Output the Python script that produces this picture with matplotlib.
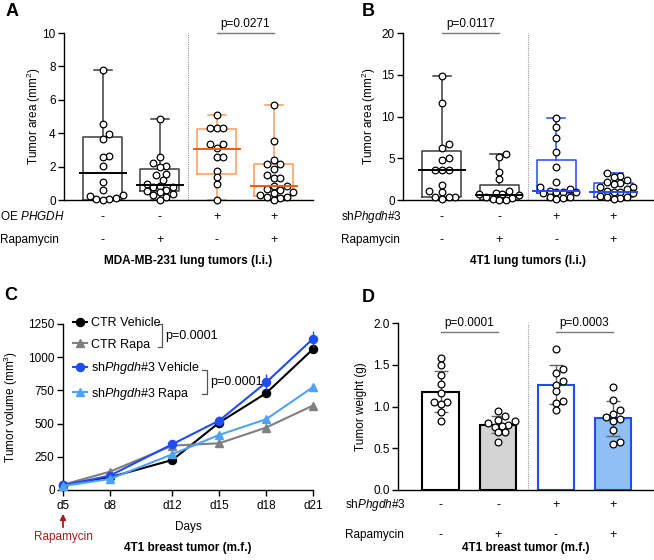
import matplotlib
matplotlib.use("Agg")
import matplotlib.pyplot as plt
import matplotlib.transforms as mtransforms
import numpy as np

plt.rcParams["font.family"] = "Liberation Sans"
plt.rcParams["mathtext.fontset"] = "custom"
plt.rcParams["mathtext.rm"] = "Liberation Sans"
plt.rcParams["mathtext.it"] = "Liberation Sans:italic"
plt.rcParams["mathtext.bf"] = "Liberation Sans:bold"

# ---- panel A: MDA-MB-231 lung tumors, tumor area (mm2)
a_ctr_veh = [7.8, 4.55, 3.95, 3.65, 2.65, 2.6, 2.05, 1.1, 0.6, 0.3, 0.25, 0.1, 0.05, 0.05, 0.0]
a_ctr_rapa = [4.85, 2.6, 2.2, 2.05, 2.0, 1.55, 1.5, 1.2, 0.95, 0.85, 0.8, 0.75, 0.6, 0.55,
              0.45, 0.35, 0.3, 0.2, 0.0]
a_oe_veh = [5.1, 4.3, 4.3, 4.3, 3.35, 3.35, 3.1, 2.55, 2.55, 1.75, 1.35, 0.95, 0.0]
a_oe_rapa = [5.7, 3.55, 2.4, 2.15, 2.15, 1.85, 1.5, 1.3, 1.3, 0.85, 0.85, 0.65, 0.6, 0.45,
             0.4, 0.3, 0.15, 0.15, 0.1, 0.0]
a_median = [1.6, 0.9, 3.05, 0.86]
a_q1 = [0.0, 0.55, 1.55, 0.25]
a_q3 = [3.75, 1.85, 4.25, 2.13]
a_row1 = ["-", "-", "+", "+"]
a_row2 = ["-", "+", "-", "+"]

# ---- panel B: 4T1 lung tumors, tumor area (mm2)
b_ctr_veh = [14.8, 11.6, 6.7, 6.2, 5.0, 4.8, 3.65, 3.65, 3.65, 1.85, 1.05, 0.9, 0.4, 0.4, 0.35, 0.1]
b_ctr_rapa = [5.5, 5.1, 3.4, 2.5, 1.1, 0.8, 0.75, 0.7, 0.6, 0.3, 0.2, 0.1, 0.05, 0.0]
b_sh_veh = [9.8, 8.7, 7.4, 5.7, 3.9, 2.2, 1.6, 1.3, 1.1, 1.0, 0.95, 0.9, 0.85, 0.4, 0.3, 0.2, 0.1]
b_sh_rapa = [3.2, 2.9, 2.8, 2.4, 2.2, 2.0, 1.9, 1.6, 1.5, 1.3, 1.1, 1.0, 0.9, 0.8, 0.5, 0.4,
             0.3, 0.2, 0.1]
b_median = [3.6, 0.6, 1.1, 1.0]
b_q1 = [0.3, 0.05, 0.85, 0.35]
b_q3 = [5.9, 1.8, 4.8, 2.0]
b_row1 = ["-", "-", "+", "+"]
b_row2 = ["-", "+", "-", "+"]

# ---- panel C: 4T1 breast tumor growth (mm3)
c_days = [5, 8, 12, 15, 18, 21]
c_ctr_veh = [38, 96, 226, 508, 729, 1061]
c_ctr_veh_err = [3, 8, 12, 20, 25, 20]
c_ctr_rapa = [40, 138, 334, 352, 470, 636]
c_ctr_rapa_err = [3, 10, 15, 15, 20, 20]
c_sh_veh = [35, 108, 345, 523, 810, 1139]
c_sh_veh_err = [3, 10, 15, 35, 60, 60]
c_sh_rapa = [30, 83, 269, 415, 533, 775]
c_sh_rapa_err = [3, 8, 15, 20, 20, 20]

# ---- panel D: 4T1 breast tumor weight (g)
d_ctr_veh = [1.58, 1.5, 1.38, 1.27, 1.16, 1.05, 1.05, 1.03, 0.94, 0.83]
d_ctr_rapa = [0.95, 0.89, 0.84, 0.83, 0.80, 0.78, 0.77, 0.76, 0.70, 0.69, 0.57]
d_sh_veh = [1.69, 1.45, 1.40, 1.30, 1.26, 1.18, 1.07, 1.04, 0.96]
d_sh_rapa = [1.23, 1.08, 0.96, 0.91, 0.87, 0.85, 0.83, 0.72, 0.57, 0.55]
d_row1 = ["-", "-", "+", "+"]
d_row2 = ["-", "+", "-", "+"]

GREY = "#3c3c3c"
ORANGE = "#ff9a5a"
ORANGE_DARK = "#f25a0a"
BLUE = "#1f4cf5"
LIGHT_BLUE = "#4fa3f7"
RED = "#a81c1c"

fig = plt.figure(figsize=(6.54, 5.6), dpi=100)


def fig_y(px):
    return 1 - px / 560


def style_axis(ax):
    for s in ["top", "right"]:
        ax.spines[s].set_visible(False)
    for s in ["left", "bottom"]:
        ax.spines[s].set_linewidth(1.0)
    ax.tick_params(axis="y", direction="out", length=4, width=1, labelsize=8.5, pad=2)


def swarm_offsets(ax, x0, vals, diam):
    # simple beeswarm in display pixels
    vals = np.asarray(vals, float)
    pts = ax.transData.transform(np.column_stack([np.full(len(vals), x0), vals]))
    order = np.argsort(vals)
    placed = []
    xs = np.zeros(len(vals))
    for i in order:
        px, py = pts[i]
        found = None
        for k in range(60):
            for sgn in ([0] if k == 0 else [1, -1]):
                cx = px + sgn * k * diam * 0.5
                if all((cx - qx) ** 2 + (py - qy) ** 2 >= (diam * 0.98) ** 2 for qx, qy in placed):
                    found = cx
                    break
            if found is not None:
                break
        placed.append((found, py))
        xs[i] = found
    back = ax.transData.inverted().transform(np.column_stack([xs, pts[:, 1]]))
    return back[:, 0]


def add_rows(ax, row1, row2, label1, label2, title, ys, label_x):
    tr = mtransforms.blended_transform_factory(ax.transData, fig.transFigure)
    tr_ax = mtransforms.blended_transform_factory(ax.transAxes, fig.transFigure)
    for i, (s1, s2) in enumerate(zip(row1, row2)):
        ax.text(i, ys[0], s1, transform=tr, ha="center", va="center", fontsize=9)
        ax.text(i, ys[1], s2, transform=tr, ha="center", va="center", fontsize=9)
    fig.text(label_x, ys[0], label1, ha="left", va="center", fontsize=8.5)
    fig.text(label_x, ys[1], label2, ha="left", va="center", fontsize=8.5)
    ax.text(0.5, ys[2], title, transform=tr_ax, ha="center", va="center",
            fontsize=8.5, fontweight="bold")


def box_panel(ax, groups, med, q1, q3, box_colors, med_colors, ylim, yticks):
    ax.set_xlim(-0.68, 3.69)
    ax.set_ylim(*ylim)
    ax.set_yticks(yticks)
    ax.set_xticks([])
    style_axis(ax)
    stats = []
    for g, m, lo, hi in zip(groups, med, q1, q3):
        stats.append(dict(med=m, q1=lo, q3=hi, whislo=min(g), whishi=max(g), fliers=[]))
    for i, st in enumerate(stats):
        c = box_colors[i]
        ax.bxp([st], positions=[i], widths=0.68, capwidths=0.32, showfliers=False,
               boxprops=dict(color=c, lw=1.1), whiskerprops=dict(color=c, lw=1.1),
               capprops=dict(color=c, lw=1.1), medianprops=dict(lw=0),
               manage_ticks=False)
        ax.hlines(med[i], i - 0.42, i + 0.42, color=med_colors[i], lw=1.4, zorder=5)
    for i, g in enumerate(groups):
        xs = swarm_offsets(ax, i, g, 6.6)
        ax.plot(xs, g, "o", ms=4.8, mfc="white", mec="black", mew=0.9, ls="none",
                zorder=4, clip_on=False)
    ax.axvline(1.5, color="#9a9a9a", ls=(0, (1, 1)), lw=0.8)


# ================= A =================
axA = fig.add_axes([64 / 654, fig_y(200), 249 / 654, 167 / 560])
box_panel(axA, [a_ctr_veh, a_ctr_rapa, a_oe_veh, a_oe_rapa], a_median, a_q1, a_q3,
          [GREY, GREY, ORANGE, ORANGE], ["black", "black", ORANGE_DARK, ORANGE_DARK],
          (0, 10), [0, 2, 4, 6, 8, 10])
axA.set_ylabel("Tumor area (mm$^2$)", fontsize=8.5)
axA.yaxis.set_label_coords(-0.085, 0.5)
axA.plot([2, 3], [10, 10], color="#777777", lw=1, clip_on=False)
axA.text(2.5, 10.15, "p=0.0271", ha="center", va="bottom", fontsize=8.5)
add_rows(axA, a_row1, a_row2, "OE $\\it{PHGDH}$", "Rapamycin", "MDA-MB-231 lung tumors (l.i.)",
         [fig_y(217), fig_y(240), fig_y(261)], 0.0)

# ================= B =================
axB = fig.add_axes([403 / 654, fig_y(200), 250 / 654, 167 / 560])
box_panel(axB, [b_ctr_veh, b_ctr_rapa, b_sh_veh, b_sh_rapa], b_median, b_q1, b_q3,
          [GREY, GREY, BLUE, BLUE], ["black", "black", BLUE, BLUE],
          (0, 20), [0, 5, 10, 15, 20])
axB.set_ylabel("Tumor area (mm$^2$)", fontsize=8.5)
axB.yaxis.set_label_coords(-0.1, 0.5)
axB.plot([0, 1], [20, 20], color="#777777", lw=1, clip_on=False)
axB.text(0.5, 20.3, "p=0.0117", ha="center", va="bottom", fontsize=8.5)
add_rows(axB, b_row1, b_row2, "sh$\\it{Phgdh}$#3", "Rapamycin", "4T1 lung tumors (l.i.)",
         [fig_y(217), fig_y(240), fig_y(261)], 341 / 654)

# ================= C =================
axC = fig.add_axes([63 / 654, fig_y(490), 250 / 654, 166 / 560])
style_axis(axC)
axC.tick_params(axis="both", labelsize=8.5)
axC.tick_params(axis="x", length=4, width=1)
series = [
    (c_ctr_veh, c_ctr_veh_err, "black", "o", "CTR Vehicle"),
    (c_ctr_rapa, c_ctr_rapa_err, "#7f7f7f", "^", "CTR Rapa"),
    (c_sh_veh, c_sh_veh_err, BLUE, "o", "sh$\\it{Phgdh}$#3 Vehicle"),
    (c_sh_rapa, c_sh_rapa_err, LIGHT_BLUE, "^", "sh$\\it{Phgdh}$#3 Rapa"),
]
for vals, err, col, mk, lab in series:
    axC.errorbar(c_days, vals, yerr=err, fmt="none", ecolor=col, elinewidth=1, capsize=0,
                 clip_on=False, zorder=3)
    axC.plot(c_days, vals, color=col, marker=mk, ms=5.8, lw=1.5, label=lab,
             clip_on=False, zorder=3)
axC.set_xlim(5, 21)
axC.set_ylim(0, 1250)
axC.set_xticks(c_days)
axC.set_xticklabels(["d%d" % d for d in c_days])
axC.set_yticks([0, 250, 500, 750, 1000, 1250])
axC.set_ylabel("Tumor volume (mm$^3$)", fontsize=8.5)
axC.yaxis.set_label_coords(-0.17, 0.5)
leg = axC.legend(loc="upper left", bbox_to_anchor=(0.02, 1.07), frameon=False, fontsize=9,
                 handlelength=1.1, handletextpad=0.35, labelspacing=0.75, borderaxespad=0)
# bracket annotations
for x, y0, y1 in [(0.396, 1.0, 0.861), (0.576, 0.723, 0.578)]:
    axC.plot([x - 0.018, x, x, x - 0.018], [y0, y0, y1, y1], color="#555555", lw=0.9,
             transform=axC.transAxes, clip_on=False)
    axC.text(x + 0.012, (y0 + y1) / 2, "p=0.0001", transform=axC.transAxes,
             ha="left", va="center", fontsize=9)
trC = mtransforms.blended_transform_factory(axC.transAxes, fig.transFigure)
axC.text(0.5, fig_y(527), "Days", transform=trC, ha="center", va="center", fontsize=8.5)
axC.annotate("", xy=(5, fig_y(511)), xytext=(5, fig_y(530)),
             xycoords=("data", "figure fraction"), textcoords=("data", "figure fraction"),
             arrowprops=dict(arrowstyle="-|>", color=RED, lw=1.3, mutation_scale=8))
axC.text(5, fig_y(537), "Rapamycin", transform=mtransforms.blended_transform_factory(
    axC.transData, fig.transFigure), ha="center", va="center", fontsize=8.5, color=RED)
axC.text(0.5, fig_y(548), "4T1 breast tumor (m.f.)", transform=trC, ha="center",
         va="center", fontsize=8.5, fontweight="bold")

# ================= D =================
axD = fig.add_axes([398 / 654, fig_y(490), 255 / 654, 167 / 560])
style_axis(axD)
d_groups = [d_ctr_veh, d_ctr_rapa, d_sh_veh, d_sh_rapa]
d_mean = [np.mean(g) for g in d_groups]
d_sd = [np.std(g, ddof=1) for g in d_groups]
axD.set_xlim(-0.74, 3.69)
axD.set_ylim(0, 2.0)
axD.set_yticks([0, 0.5, 1.0, 1.5, 2.0])
axD.set_yticklabels(["0.0", "0.5", "1.0", "1.5", "2.0"])
axD.set_xticks([])
axD.bar(range(4), d_mean, width=0.63, color=["white", "#d4d4d4", "white", "#8fbff5"],
        edgecolor=["black", "black", BLUE, BLUE], lw=1.5, zorder=2)
axD.errorbar(range(4), d_mean, yerr=d_sd, fmt="none", ecolor="#666666", elinewidth=1,
             capsize=5, capthick=1, zorder=3)
for i, g in enumerate(d_groups):
    xs = swarm_offsets(axD, i, g, 6.8)
    axD.plot(xs, g, "o", ms=4.9, mfc="white", mec="black", mew=0.9, ls="none", zorder=4)
axD.axvline(1.52, color="#9a9a9a", ls=(0, (1, 1)), lw=0.8)
axD.set_ylabel("Tumor weight (g)", fontsize=8.5)
axD.yaxis.set_label_coords(-0.12, 0.5)
for (a, b), p in [((0, 1), "p=0.0001"), ((2, 3), "p=0.0003")]:
    axD.plot([a, b], [1.895, 1.895], color="#777777", lw=1)
    axD.text((a + b) / 2, 1.93, p, ha="center", va="bottom", fontsize=8.5)
add_rows(axD, d_row1, d_row2, "sh$\\it{Phgdh}$#3", "Rapamycin", "4T1 breast tumor (m.f.)",
         [fig_y(505), fig_y(535), fig_y(548)], 345 / 654)

# panel letters
for lab, x, y in [("A", 6, 12), ("B", 362, 12), ("C", 4, 296), ("D", 362, 297)]:
    fig.text(x / 654, fig_y(y), lab, fontsize=13, fontweight="bold", ha="left", va="center")

fig.savefig("out.png", dpi=100)
